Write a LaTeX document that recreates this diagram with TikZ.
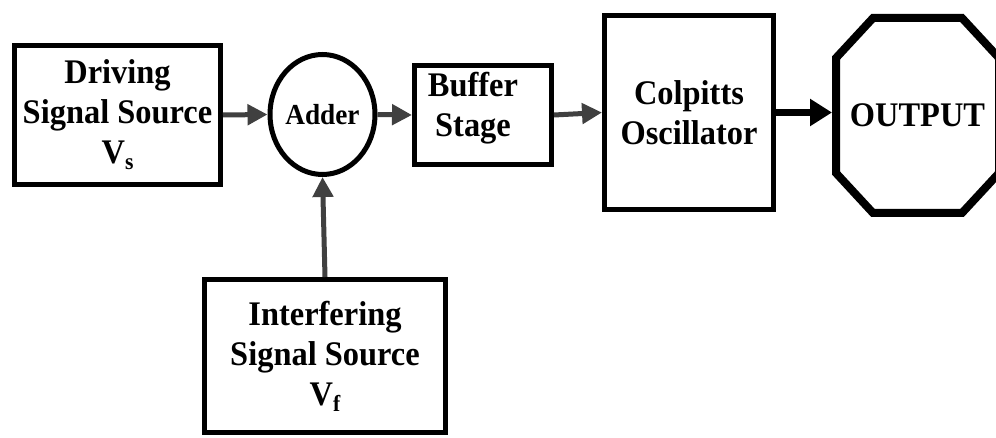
\documentclass[tikz,border=0pt]{standalone}
\usepackage{fontspec}
\setmainfont{Liberation Serif}
\newfontfamily\tallserif[FakeStretch=0.94]{Liberation Serif}
\usetikzlibrary{arrows.meta,calc,shapes.geometric}
\begin{document}
\begin{tikzpicture}[x=1pt,y=1pt,
  blocktext/.style={font=\tallserif\fontsize{34.5}{40}\selectfont\bfseries, align=center},
  block/.style={draw=black, line width=5pt, rectangle, inner sep=0pt, blocktext},
  sumnode/.style={draw=black, line width=5pt, ellipse, inner sep=0pt,
    minimum width=104pt, minimum height=120pt,
    font=\tallserif\fontsize{29}{30}\selectfont\bfseries},
  grayflow/.style={draw=black!75, line width=5pt,
    -{Triangle[length=20pt,width=20pt]}},
  blackflow/.style={draw=black, line width=7pt,
    -{Triangle[length=22pt,width=26pt]}}
]
\useasboundingbox (0,0) rectangle (996,437);
\clip (0,0) rectangle (996,437);
\fill[white] (0,0) rectangle (996,437);

% signal chain blocks
\node[block, minimum width=206pt, minimum height=139pt] (drive) at (117.5,322)
  {Driving\\Signal Source\\V\raisebox{-6pt}{\fontsize{23}{23}\selectfont s}};
\node[sumnode] (adder) at (322.5,322.5) {Adder};
\node[block, minimum width=137pt, minimum height=99pt] (buffer) at (483,322) {};
\node[blocktext] (buffertxt) at (473,329) {Buffer\\Stage};
\node[block, minimum width=169pt, minimum height=194pt] (colp) at (689,324.5)
  {Colpitts\\Oscillator};
\node[block, minimum width=241pt, minimum height=153pt] (interf) at (325,81)
  {Interfering\\Signal Source\\V\raisebox{-6pt}{\fontsize{23}{23}\selectfont f}};

% output terminal: chamfered octagon
\node[blocktext, draw=none, minimum width=163pt, minimum height=195pt,
  inner sep=0pt, outer sep=4pt] (out) at (917.5,321.5) {OUTPUT};
\draw[line width=8pt, line join=miter]
  ($(out.north west)+(4+37,-4)$) -- ($(out.north east)+(-4-37,-4)$)
  -- ($(out.north east)+(-4,-4-40)$) -- ($(out.south east)+(-4,4+40)$)
  -- ($(out.south east)+(-4-37,4)$) -- ($(out.south west)+(4+37,4)$)
  -- ($(out.south west)+(4,4+40)$) -- ($(out.north west)+(4,-4-40)$)
  -- cycle;

% connectors
\draw[grayflow] (drive.east) -- (adder.west);
\draw[grayflow] (adder.east) -- (buffer.west);
\draw[grayflow] (buffer.east) -- (colp.west);
\draw[grayflow] (interf.north) -- (adder.south);
\draw[blackflow] (colp.east) -- (colp.east -| out.west);
\end{tikzpicture}
\end{document}
